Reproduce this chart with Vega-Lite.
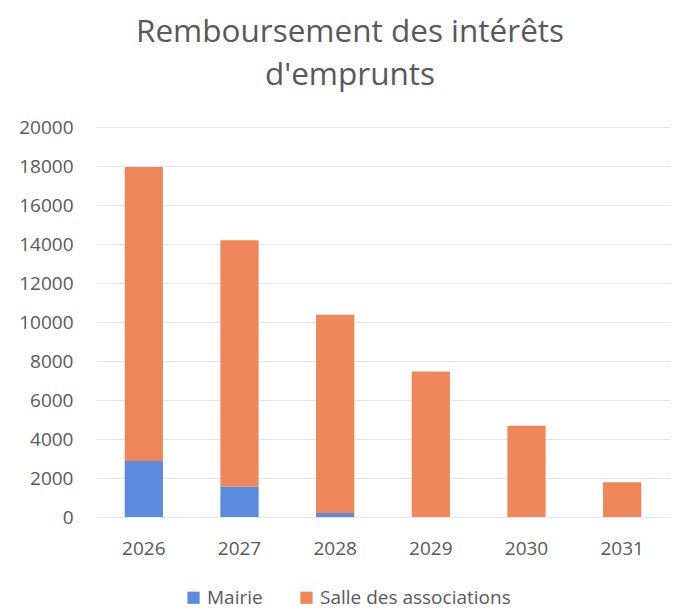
{
  "$schema": "https://vega.github.io/schema/vega-lite/v6.json",
  "width": 574,
  "height": 390,
  "autosize": {"type": "none"},
  "padding": {"left": 96, "top": 127, "right": 11, "bottom": 96},
  "background": "white",
  "title": {
    "text": ["Remboursement des intérêts", "d'emprunts"],
    "font": "Open Sans",
    "fontSize": 31.5,
    "fontWeight": "normal",
    "color": "#595959",
    "lineHeight": 43,
    "anchor": "middle",
    "dx": -33,
    "offset": 27
  },
  "data": {
    "values": [
      {"annee": "2026", "serie": "Mairie", "montant": 2870},
      {"annee": "2026", "serie": "Salle des associations", "montant": 15080},
      {"annee": "2027", "serie": "Mairie", "montant": 1560},
      {"annee": "2027", "serie": "Salle des associations", "montant": 12630},
      {"annee": "2028", "serie": "Mairie", "montant": 210},
      {"annee": "2028", "serie": "Salle des associations", "montant": 10160},
      {"annee": "2029", "serie": "Mairie", "montant": 0},
      {"annee": "2029", "serie": "Salle des associations", "montant": 7460},
      {"annee": "2030", "serie": "Mairie", "montant": 0},
      {"annee": "2030", "serie": "Salle des associations", "montant": 4680},
      {"annee": "2031", "serie": "Mairie", "montant": 0},
      {"annee": "2031", "serie": "Salle des associations", "montant": 1780}
    ]
  },
  "mark": {"type": "bar"},
  "encoding": {
    "x": {
      "field": "annee",
      "type": "nominal",
      "scale": {"paddingInner": 0.6, "paddingOuter": 0.3},
      "axis": {
        "title": null,
        "labelAngle": 0,
        "labelFont": "Open Sans",
        "labelFontSize": 19,
        "labelColor": "#595959",
        "labelPadding": 22,
        "ticks": false,
        "domain": false,
        "grid": false
      }
    },
    "y": {
      "field": "montant",
      "type": "quantitative",
      "stack": "zero",
      "scale": {"domain": [0, 20000], "nice": false},
      "axis": {
        "title": null,
        "values": [0, 2000, 4000, 6000, 8000, 10000, 12000, 14000, 16000, 18000, 20000],
        "format": "d",
        "labelFont": "Open Sans",
        "labelFontSize": 19,
        "labelColor": "#595959",
        "labelPadding": 23,
        "ticks": false,
        "domain": false,
        "grid": true,
        "gridColor": "#e6e6e6",
        "gridWidth": 1
      }
    },
    "color": {
      "field": "serie",
      "type": "nominal",
      "scale": {
        "domain": ["Mairie", "Salle des associations"],
        "range": ["#5b8ade", "#f0875a"]
      },
      "legend": {
        "title": null,
        "orient": "none",
        "legendX": 88,
        "legendY": 461,
        "direction": "horizontal",
        "symbolType": "square",
        "symbolSize": 150,
        "symbolStrokeWidth": 0,
        "labelFont": "Open Sans",
        "labelFontSize": 19,
        "labelColor": "#595959",
        "labelLimit": 0,
        "columnPadding": 34
      }
    },
    "order": {"field": "serie", "sort": "ascending"}
  },
  "config": {
    "view": {"stroke": null}
  }
}
